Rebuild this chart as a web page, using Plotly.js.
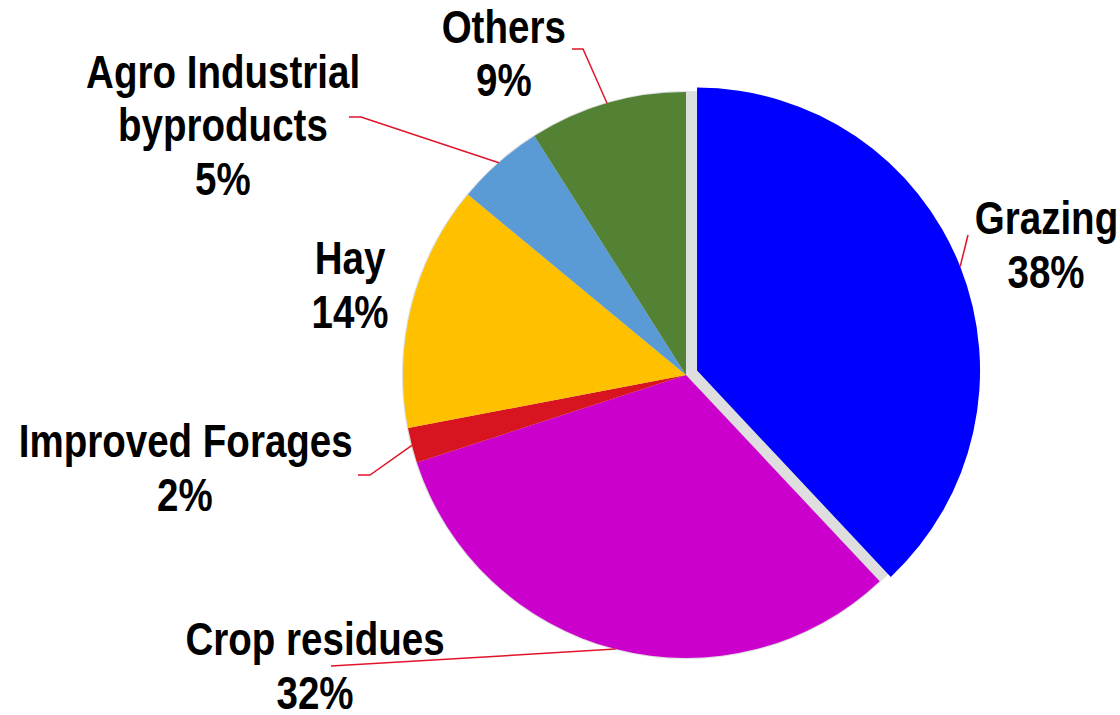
<!DOCTYPE html>
<html><head><meta charset="utf-8">
<script src="https://cdn.plot.ly/plotly-3.0.1.min.js"></script>
<style>html,body{margin:0;padding:0;background:#fff}#chart{width:1120px;height:715px}</style>
</head><body><div id="chart"></div>
<script>
// ---- data ----
const categories = ["Grazing", "Crop residues", "Improved Forages", "Hay", "Agro Industrial byproducts", "Others"];
const shares = [38, 32, 2, 14, 5, 9];
const labelLines = [["Grazing"], ["Crop residues"], ["Improved Forages"], ["Hay"], ["Agro Industrial", "byproducts"], ["Others"]];
const colors = ["#0000FF", "#CC00CC", "#D7141F", "#FFC000", "#5B9BD5", "#548235"];
const pulls = [0.042, 0, 0, 0, 0, 0];

// ---- layout constants (pixels) ----
const W = 1120, H = 715;
const CX = 686, CY = 375, R = 283;
const FONT = "'Liberation Sans', Arial, sans-serif";
const FS = 47, PITCH = 54, NARROW = 0.82;
// label block centres [x, y]
const labelPos = [[1046, 244], [315, 665], [185, 467], [350, 285], [223, 125], [504, 53]];
// leader line path after the slice edge point (null = no line)
const leaderPts = [[[968, 235]], [[331, 666]], [[370, 475], [358, 475]], null, [[361, 117], [349, 117]], [[583, 49], [572, 49]]];
const LINE_COLOR = "#E0142A";

const maxPull = Math.max.apply(null, pulls);
const half = R * (1 + maxPull);
const dom = (c, h, size, flip) => flip ? [1 - (c + h) / size, 1 - (c - h) / size] : [(c - h) / size, (c + h) / size];

const shadow = {
  type: "pie", values: [1], marker: {colors: ["#DEDEDE"], line: {width: 0}},
  textinfo: "none", hoverinfo: "skip", sort: false, showlegend: false,
  domain: {x: dom(CX, R + 1, W, false), y: dom(CY, R + 1, H, true)}
};
const pie = {
  type: "pie", labels: categories, values: shares, sort: false, direction: "clockwise", rotation: 0,
  pull: pulls, marker: {colors: colors, line: {width: 0}}, textinfo: "none", showlegend: false,
  domain: {x: dom(CX, half, W, false), y: dom(CY, half, H, true)}
};

const total = shares.reduce((a, b) => a + b, 0);
const annotations = [], shapes = [];
let cum = 0;
const px = x => x / W, py = y => 1 - y / H;
shares.forEach((v, i) => {
  const mid = (cum + v / 2) / total * 2 * Math.PI;
  cum += v;
  const s = Math.sin(mid), c = Math.cos(mid);
  const off = pulls[i] * R;
  const ex = CX + off * s + R * s, ey = CY - off * c - R * c;
  if (leaderPts[i]) {
    let d = `M ${px(ex)} ${py(ey)}`;
    leaderPts[i].forEach(p => { d += ` L ${px(p[0])} ${py(p[1])}`; });
    shapes.push({type: "path", xref: "paper", yref: "paper", path: d, line: {color: LINE_COLOR, width: 1.5}});
  }
  const lines = labelLines[i].concat([v + "%"]);
  const n = lines.length;
  lines.forEach((t, k) => {
    annotations.push({
      xref: "paper", yref: "paper", x: px(labelPos[i][0]), y: py(labelPos[i][1] + (k - (n - 1) / 2) * PITCH),
      xanchor: "center", yanchor: "middle", showarrow: false, text: t,
      font: {family: FONT, size: FS, color: "#000", weight: "bold"}
    });
  });
});

Plotly.newPlot("chart", [shadow, pie], {
  width: W, height: H, margin: {l: 0, r: 0, t: 0, b: 0},
  paper_bgcolor: "#fff", plot_bgcolor: "#fff", showlegend: false,
  annotations: annotations, shapes: shapes
}, {displayModeBar: false}).then(gd => {
  // condensed look (like Arial Narrow): squeeze each label horizontally about its centre
  gd.querySelectorAll("text.annotation-text").forEach(el => {
    const b = el.getBBox();
    const cx = b.x + b.width / 2;
    const prev = el.getAttribute("transform") || "";
    el.setAttribute("transform", `${prev} translate(${cx},0) scale(${NARROW},1) translate(${-cx},0)`);
  });
});
</script></body></html>
